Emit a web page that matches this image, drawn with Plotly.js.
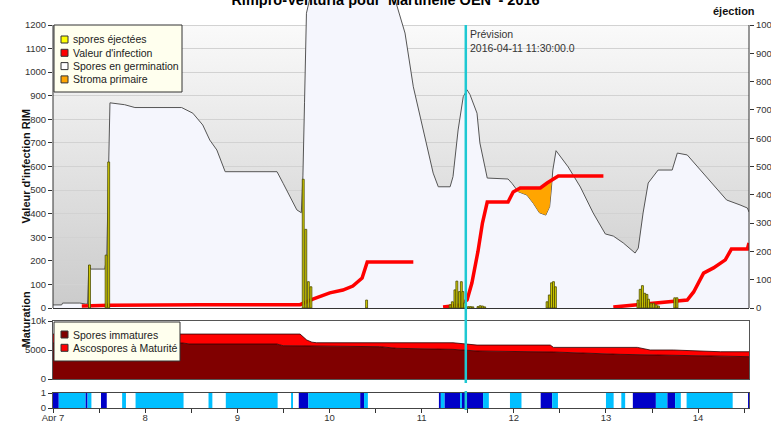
<!DOCTYPE html>
<html><head><meta charset="utf-8">
<script src="https://cdn.plot.ly/plotly-3.0.1.min.js"></script>
<style>html,body{margin:0;padding:0;background:#fff}#chart{width:771px;height:421px}</style>
</head><body><div id="chart"></div>
<script>
// ---------------- DATA ----------------
const chartTitle = "Rimpro-Venturia pour 'Martinelle OEN' - 2016";
const forecastTime = '2016-04-11 11:30';
const forecastLabel = 'Prévision<br>2016-04-11 11:30:00.0';

// Spores en germination (left axis)
const germTime = ['2016-04-07 00:00','2016-04-07 02:15','2016-04-07 02:30','2016-04-07 07:00','2016-04-07 08:30','2016-04-07 09:00','2016-04-07 09:20','2016-04-07 09:50','2016-04-07 13:30','2016-04-07 14:00','2016-04-07 14:50','2016-04-07 18:40','2016-04-07 21:20','2016-04-08 09:30','2016-04-08 12:25','2016-04-08 15:00','2016-04-08 16:50','2016-04-08 18:40','2016-04-08 20:50','2016-04-09 10:20','2016-04-09 11:55','2016-04-09 13:40','2016-04-09 15:30','2016-04-09 16:40','2016-04-09 17:05','2016-04-09 17:30','2016-04-09 18:00','2016-04-09 21:30','2016-04-10 05:20','2016-04-10 14:30','2016-04-10 19:00','2016-04-10 19:40','2016-04-10 21:50','2016-04-11 00:25','2016-04-11 03:00','2016-04-11 04:20','2016-04-11 07:25','2016-04-11 08:10','2016-04-11 09:30','2016-04-11 10:50','2016-04-11 11:50','2016-04-11 12:35','2016-04-11 14:25','2016-04-11 15:10','2016-04-11 17:05','2016-04-11 22:30','2016-04-11 23:30','2016-04-12 01:10','2016-04-12 03:25','2016-04-12 05:05','2016-04-12 06:40','2016-04-12 08:20','2016-04-12 09:20','2016-04-12 09:45','2016-04-12 10:10','2016-04-12 11:00','2016-04-12 14:10','2016-04-12 17:20','2016-04-12 20:40','2016-04-12 23:50','2016-04-13 01:55','2016-04-13 04:30','2016-04-13 07:35','2016-04-13 08:25','2016-04-13 09:40','2016-04-13 11:00','2016-04-13 13:35','2016-04-13 17:15','2016-04-13 18:35','2016-04-13 21:10','2016-04-14 00:35','2016-04-14 03:50','2016-04-14 07:25','2016-04-14 10:55','2016-04-14 12:50','2016-04-14 13:15'];
const germValue = [13,13,21,21,17,17,182,165,165,220,870,862,850,850,826,776,712,670,578,578,529,472,416,404,560,870,1250,1500,1600,1450,1210,1166,938,755,572,514,514,557,755,896,925,905,826,700,551,547,529,493,479,444,404,394,430,500,585,667,598,513,403,314,305,276,233,254,403,530,585,585,657,649,585,521,458,437,424,407];

// Valeur d'infection (left axis), null = gap
const infTime = ['2016-04-07 07:30','2016-04-07 14:50','2016-04-08 14:15','2016-04-09 16:20','2016-04-09 19:40','2016-04-10 00:05','2016-04-10 03:30','2016-04-10 06:05','2016-04-10 08:30','2016-04-10 09:50','2016-04-10 21:50','2016-04-11 00:00','2016-04-11 05:35','2016-04-11 10:00','2016-04-11 11:50','2016-04-11 13:05','2016-04-11 14:40','2016-04-11 15:50','2016-04-11 17:05','2016-04-11 22:30','2016-04-11 23:50','2016-04-12 01:40','2016-04-12 06:55','2016-04-12 08:40','2016-04-12 11:35','2016-04-12 23:20','2016-04-13 00:00','2016-04-13 01:55','2016-04-13 08:10','2016-04-13 14:10','2016-04-13 21:10','2016-04-13 22:50','2016-04-14 01:25','2016-04-14 04:00','2016-04-14 07:05','2016-04-14 08:40','2016-04-14 12:50','2016-04-14 13:15'];
const infValue = [8,12,14,14,38,64,76,93,127,195,195,null,4,13,34,106,240,360,449,449,492,509,509,530,560,560,null,4,13,21,34,68,148,170,204,250,250,276];

// Stroma primaire: between germination (low) and infection (high)
const stromaTime = ['2016-04-12 00:30','2016-04-12 01:10','2016-04-12 03:25','2016-04-12 05:05','2016-04-12 06:40','2016-04-12 08:20','2016-04-12 09:20','2016-04-12 09:45','2016-04-12 09:55'];
const stromaLow  = [500,493,479,444,404,394,430,500,545];
const stromaHigh = [500,505,509,509,509,523,535,541,545];

// spores éjectées (right axis "éjection")
const sporeTime = ['2016-04-07 09:30','2016-04-07 13:50','2016-04-07 14:30','2016-04-09 17:10','2016-04-09 17:50','2016-04-09 18:30','2016-04-09 19:10','2016-04-10 09:40','2016-04-11 07:25','2016-04-11 08:00','2016-04-11 08:40','2016-04-11 09:10','2016-04-11 09:50','2016-04-11 10:20','2016-04-11 10:45','2016-04-11 11:10','2016-04-11 12:10','2016-04-11 12:45','2016-04-11 13:20','2016-04-11 14:40','2016-04-11 15:15','2016-04-11 15:50','2016-04-11 16:25','2016-04-12 08:40','2016-04-12 09:15','2016-04-12 09:50','2016-04-12 10:20','2016-04-12 10:50','2016-04-13 08:20','2016-04-13 08:55','2016-04-13 09:30','2016-04-13 10:05','2016-04-13 10:40','2016-04-13 11:05','2016-04-13 11:45','2016-04-13 12:25','2016-04-13 13:05','2016-04-13 13:40','2016-04-13 17:55','2016-04-13 18:30'];
const sporeValue = [152,187,516,455,278,93,75,28,11,22,64,95,58,93,58,18,5,5,4,5,8,7,4,22,46,89,93,75,28,66,79,52,48,31,17,17,11,7,36,36];

// Maturation (stacked)
const matTime = ['2016-04-07 00:00','2016-04-08 09:50','2016-04-08 11:40','2016-04-09 10:20','2016-04-09 11:55','2016-04-09 16:20','2016-04-09 18:05','2016-04-09 19:25','2016-04-09 20:40','2016-04-10 13:05','2016-04-10 17:35','2016-04-11 08:10','2016-04-11 14:25','2016-04-12 09:30','2016-04-12 10:20','2016-04-13 03:40','2016-04-13 08:10','2016-04-13 11:30','2016-04-13 15:55','2016-04-13 17:30','2016-04-14 05:50','2016-04-14 13:15'];
const matImmature = [6200,6200,6030,6030,5740,5720,5710,5700,5690,5570,5290,5110,4830,4660,4650,4250,4200,4160,4080,4060,3850,3850];
const matMature   = [1550,1550,1720,1720,2010,2030,1010,650,560,680,960,1140,1020,1190,800,1200,1250,840,920,940,850,850];

// Wetness strip: D = rain (dark blue), L = wet (light blue)
const wetStart = ['2016-04-07 00:00','2016-04-07 01:30','2016-04-07 08:30','2016-04-07 09:00','2016-04-07 12:30','2016-04-07 18:00','2016-04-07 21:30','2016-04-08 16:30','2016-04-08 21:00','2016-04-09 14:00','2016-04-09 16:00','2016-04-09 18:30','2016-04-10 08:00','2016-04-10 09:00','2016-04-11 04:30','2016-04-11 05:00','2016-04-11 06:00','2016-04-11 10:00','2016-04-11 10:30','2016-04-11 16:00','2016-04-11 23:00','2016-04-12 07:00','2016-04-12 10:00','2016-04-13 00:00','2016-04-13 04:00','2016-04-13 07:00','2016-04-13 13:00','2016-04-13 16:00','2016-04-13 18:00','2016-04-13 21:00','2016-04-14 13:00'];
const wetEnd   = ['2016-04-07 01:30','2016-04-07 08:30','2016-04-07 09:00','2016-04-07 10:00','2016-04-07 14:00','2016-04-07 19:00','2016-04-08 10:00','2016-04-08 17:30','2016-04-09 10:30','2016-04-09 14:30','2016-04-09 18:30','2016-04-10 08:00','2016-04-10 09:00','2016-04-10 10:00','2016-04-11 05:00','2016-04-11 06:00','2016-04-11 10:00','2016-04-11 10:30','2016-04-11 16:00','2016-04-11 17:30','2016-04-12 02:00','2016-04-12 10:00','2016-04-12 11:30','2016-04-13 02:00','2016-04-13 05:00','2016-04-13 13:00','2016-04-13 16:00','2016-04-13 18:00','2016-04-13 19:30','2016-04-14 09:00','2016-04-14 13:30'];
const wetKind  = ['D','L','D','L','D','L','L','L','L','L','D','L','D','L','D','L','D','L','D','L','L','D','L','L','L','D','L','D','L','L','D'];

// Axis ticks
const xTickVals = ['2016-04-07 00:00','2016-04-07 12:00','2016-04-08 00:00','2016-04-08 12:00','2016-04-09 00:00','2016-04-09 12:00','2016-04-10 00:00','2016-04-10 12:00','2016-04-11 00:00','2016-04-11 12:00','2016-04-12 00:00','2016-04-12 12:00','2016-04-13 00:00','2016-04-13 12:00','2016-04-14 00:00','2016-04-14 12:00'];
const xTickText = ['Apr 7','','8','','9','','10','','11','','12','','13','','14',''];
const xRange = ['2016-04-07 00:00','2016-04-14 13:15'];
const leftTicks = [0,100,200,300,400,500,600,700,800,900,1000,1100,1200];
const rightTicks = [0,100,200,300,400,500,600,700,800,900,1000];
const matTicks = [0,5000,10000];
const stripTicks = [0,1];

const mainLegendNames = ['spores éjectées', "Valeur d'infection", 'Spores en germination', 'Stroma primaire'];
const mainLegendColors = ['#ffff00', '#ff0000', '#ffffff', '#ffa500'];
const matLegendNames = ['Spores immatures', 'Ascospores à Maturité'];
const matLegendColors = ['#800000', '#ff0000'];

// ---------------- LAYOUT GEOMETRY ----------------
const FONT = 'Liberation Sans, Arial, Helvetica, sans-serif';
const ML = 53, MR = 22, MT = 0, MB = 13, FW = 771, FH = 421;
const PW = FW - ML - MR, PH = FH - MT - MB;
const px2x = px => (px - ML) / PW;
const py2y = py => (PH - (py - MT)) / PH;
const mainDom = [py2y(308), 1];
const matDom = [py2y(379), py2y(321)];
const stripDom = [0, py2y(393)];
const leftMax = 1200, rightMax = 1000;
const frac = (308 - MT) / (308 - 25);        // full-domain height / 0..max height
const yTop = leftMax * frac, y2Top = rightMax * frac;
const topPaper = py2y(25);

const toMs = s => Date.parse(s.replace(' ', 'T') + ':00Z');

// ---------------- TRACES ----------------
const traces = [];
traces.push({type:'scatter', mode:'lines', x:germTime, y:germValue, xaxis:'x', yaxis:'y',
  fill:'tozeroy', fillcolor:'#f5f6fd', line:{color:'#555555', width:1}, name:'Spores en germination', showlegend:false, hoverinfo:'skip'});
traces.push({type:'scatter', mode:'lines', x:stromaTime, y:stromaLow, xaxis:'x', yaxis:'y',
  line:{width:0, color:'rgba(0,0,0,0)'}, showlegend:false, hoverinfo:'skip'});
traces.push({type:'scatter', mode:'lines', x:stromaTime, y:stromaHigh, xaxis:'x', yaxis:'y',
  fill:'tonexty', fillcolor:'#ffa500', line:{width:0, color:'rgba(0,0,0,0)'}, name:'Stroma primaire', showlegend:false, hoverinfo:'skip'});
traces.push({type:'scatter', mode:'lines', x:infTime, y:infValue, xaxis:'x', yaxis:'y', connectgaps:false,
  line:{color:'#ff0000', width:3.5}, name:"Valeur d'infection", showlegend:false, hoverinfo:'skip'});
traces.push({type:'bar', x:sporeTime, y:sporeValue, xaxis:'x', yaxis:'y2', width:30*60*1000,
  marker:{color:'#d6cf00', line:{color:'#4a4a00', width:0.8}}, name:'spores éjectées', showlegend:false, hoverinfo:'skip'});

traces.push({type:'scatter', mode:'lines', x:matTime, y:matImmature, xaxis:'x2', yaxis:'y4', stackgroup:'mat',
  fillcolor:'#800000', line:{color:'#2a0000', width:0.8}, name:'Spores immatures', showlegend:false, hoverinfo:'skip'});
traces.push({type:'scatter', mode:'lines', x:matTime, y:matMature, xaxis:'x2', yaxis:'y4', stackgroup:'mat',
  fillcolor:'#ff0000', line:{color:'#2a0000', width:0.8}, name:'Ascospores à Maturité', showlegend:false, hoverinfo:'skip'});

const wetColorMap = {D:'#0000c8', L:'#00bfff'};
traces.push({type:'bar', xaxis:'x3', yaxis:'y5',
  x: wetStart.map((s,i) => (toMs(s) + toMs(wetEnd[i])) / 2),
  y: wetStart.map(() => 1),
  width: wetStart.map((s,i) => toMs(wetEnd[i]) - toMs(s)),
  marker:{color: wetKind.map(k => wetColorMap[k]), line:{width:0}}, showlegend:false, hoverinfo:'skip'});

// ---------------- SHAPES / ANNOTATIONS ----------------
const shapes = [], annotations = [];
shapes.push({type:'line', xref:'paper', yref:'y', x0:0, x1:0, y0:0, y1:leftMax, line:{color:'#333', width:1}, layer:'above'});
shapes.push({type:'line', xref:'paper', yref:'y', x0:1, x1:1, y0:0, y1:leftMax, line:{color:'#333', width:1}, layer:'above'});
shapes.push({type:'line', xref:'x', yref:'paper', x0:forecastTime, x1:forecastTime, y0:py2y(383), y1:topPaper, line:{color:'#1ec8d2', width:2.5}, layer:'above'});
shapes.push({type:'line', xref:'x3', yref:'paper', x0:forecastTime, x1:forecastTime, y0:py2y(410), y1:py2y(391), line:{color:'#1ec8d2', width:2.5}, layer:'above'});

function addLegend(names, colors, box, firstY, step) {
  shapes.push({type:'rect', xref:'paper', yref:'paper', x0:px2x(box[0]), x1:px2x(box[1]), y0:py2y(box[3]), y1:py2y(box[2]),
    fillcolor:'#ffffee', line:{color:'#333', width:1}, layer:'above'});
  names.forEach((n, i) => {
    const cy = firstY + i * step;
    shapes.push({type:'rect', xref:'paper', yref:'paper', x0:px2x(61), x1:px2x(68), y0:py2y(cy + 3.5), y1:py2y(cy - 3.5),
      fillcolor:colors[i], line:{color:'#333', width:1}, layer:'above'});
    annotations.push({text:n, xref:'paper', yref:'paper', x:px2x(71), y:py2y(cy), xanchor:'left', yanchor:'middle',
      showarrow:false, font:{family:FONT, size:10.5, color:'#222'}});
  });
}
addLegend(mainLegendNames, mainLegendColors, [54, 182, 25, 92], 39.5, 13.3);
addLegend(matLegendNames, matLegendColors, [54, 180, 322, 361], 334.5, 13.3);

annotations.push({text:forecastLabel, xref:'x', yref:'paper', x:forecastTime, xshift:2, y:py2y(26), xanchor:'left', yanchor:'top', align:'left',
  showarrow:false, font:{family:FONT, size:10.5, color:'#333'}});
annotations.push({text:"<b>Valeur d'infection RIM</b>", xref:'paper', yref:'y', x:px2x(17), y:leftMax/2, textangle:-90,
  showarrow:false, font:{family:FONT, size:11, color:'#111'}});
annotations.push({text:'<b>Maturation</b>', xref:'paper', yref:'paper', x:px2x(17), y:py2y(350), textangle:-90,
  showarrow:false, font:{family:FONT, size:11, color:'#111'}});
annotations.push({text:'<b>éjection</b>', xref:'paper', yref:'paper', x:px2x(734), y:py2y(11), xanchor:'center', yanchor:'middle',
  showarrow:false, font:{family:FONT, size:11, color:'#111'}});

const gradSvg = "<svg xmlns='http://www.w3.org/2000/svg' width='10' height='100' preserveAspectRatio='none'><defs><linearGradient id='g' x1='0' y1='0' x2='0' y2='1'><stop offset='0' stop-color='#fafafa'/><stop offset='1' stop-color='#cbcbcb'/></linearGradient></defs><rect width='10' height='100' fill='url(#g)'/></svg>";

const tickFont = {family:FONT, size:9.5, color:'#333'};
const layout = {
  width:FW, height:FH, margin:{l:ML, r:MR, t:MT, b:MB, pad:0},
  paper_bgcolor:'#ffffff', plot_bgcolor:'rgba(0,0,0,0)',
  showlegend:false, hovermode:false, barmode:'overlay',
  font:{family:FONT, size:10, color:'#333'},
  title:{text:'<b>' + chartTitle + '</b>', font:{family:FONT, size:14.5, color:'#000'}, x:0.5, xanchor:'center', xref:'container', y:1, yanchor:'middle', yref:'container'},
  xaxis:{type:'date', domain:[0,1], anchor:'y', range:xRange, showticklabels:false, ticks:'', showgrid:false, zeroline:false,
    showline:true, linecolor:'#333', linewidth:1},
  yaxis:{domain:mainDom, anchor:'x', range:[0, yTop], tickmode:'array', tickvals:leftTicks, ticks:'outside', ticklen:4, tickcolor:'#333',
    tickfont:tickFont, showgrid:true, gridcolor:'#d2d2d2', gridwidth:1, zeroline:false, showline:false},
  yaxis2:{overlaying:'y', side:'right', anchor:'x', range:[0, y2Top], tickmode:'array', tickvals:rightTicks, ticks:'outside', ticklen:4, tickcolor:'#333',
    tickfont:tickFont, showgrid:false, zeroline:false, showline:false},
  yaxis3:{overlaying:'y', anchor:'x', range:[-leftMax, yTop - leftMax], showticklabels:false, ticks:'', showgrid:false,
    zeroline:true, zerolinecolor:'#333', zerolinewidth:1, showline:false},
  xaxis2:{type:'date', matches:'x', anchor:'y4', showticklabels:false, ticks:'', showgrid:false, zeroline:false,
    showline:true, mirror:true, linecolor:'#555', linewidth:1},
  yaxis4:{domain:matDom, anchor:'x2', range:[0,10000], tickmode:'array', tickvals:matTicks, ticks:'outside', ticklen:4, tickcolor:'#333',
    tickfont:tickFont, showgrid:false, zeroline:false, showline:true, mirror:true, linecolor:'#555', linewidth:1},
  xaxis3:{type:'date', matches:'x', anchor:'y5', tickmode:'array', tickvals:xTickVals, ticktext:xTickText, ticks:'outside', ticklen:4, tickcolor:'#333',
    ticklabelstandoff:-3, tickfont:tickFont, showgrid:false, zeroline:false, showline:true, mirror:true, linecolor:'#444', linewidth:1},
  yaxis5:{domain:stripDom, anchor:'x3', range:[0,1], tickmode:'array', tickvals:stripTicks, ticks:'outside', ticklen:4, tickcolor:'#333',
    tickfont:tickFont, showgrid:false, zeroline:false, showline:true, mirror:true, linecolor:'#555', linewidth:1},
  shapes:shapes, annotations:annotations,
  images:[{source:'data:image/svg+xml;charset=utf-8,' + encodeURIComponent(gradSvg), xref:'paper', yref:'y',
    x:0, y:leftMax, sizex:1, sizey:leftMax, sizing:'stretch', xanchor:'left', yanchor:'top', layer:'below'}]
};

Plotly.newPlot('chart', traces, layout, {displayModeBar:false, staticPlot:true});
</script>
</body></html>
